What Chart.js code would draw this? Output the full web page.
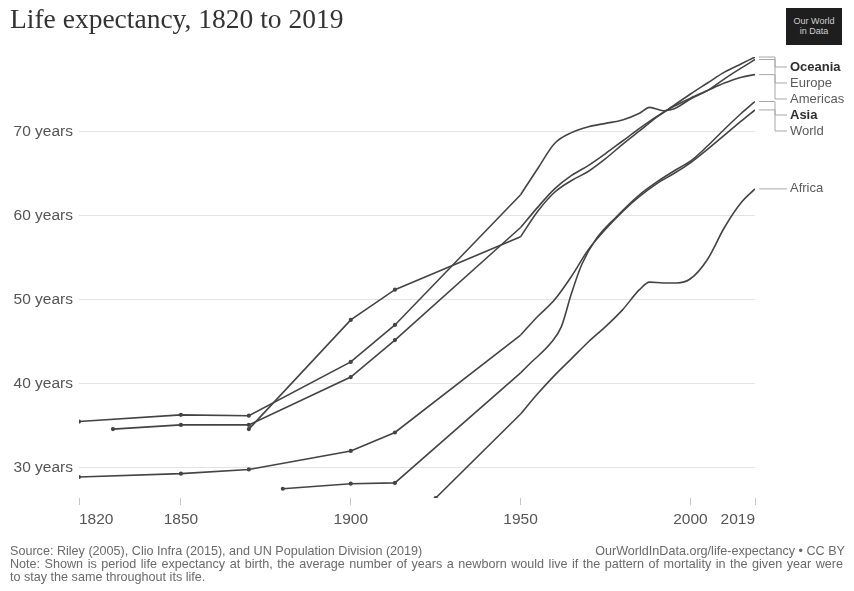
<!DOCTYPE html>
<html><head><meta charset="utf-8">
<script src="https://cdn.jsdelivr.net/npm/chart.js@4"></script>
<style>
html,body{margin:0;padding:0;background:#fff;}
#wrap{position:relative;width:854px;height:591px;overflow:hidden;font-family:"Liberation Sans",Arial,sans-serif;}
#c{position:absolute;left:0;top:0;}
#title{position:absolute;left:10px;top:3px;font-family:"Liberation Serif",serif;font-size:27.5px;color:#333;white-space:nowrap;}
#logo{position:absolute;left:786px;top:8px;width:56px;height:37px;background:#1e1e1e;color:#cfcfcf;font-size:9px;line-height:10px;text-align:center;padding-top:8px;box-sizing:border-box;}
.foot{position:absolute;font-size:12.6px;line-height:13px;color:#6a6a6a;white-space:nowrap;}
</style></head>
<body>
<div id="wrap">
<canvas id="c" width="854" height="591"></canvas>
<div id="title">Life expectancy, 1820 to 2019</div>
<div id="logo">Our World<br>in Data</div>
<div class="foot" style="left:10px;top:545px;">Source: Riley (2005), Clio Infra (2015), and UN Population Division (2019)</div>
<div class="foot" style="right:9px;top:545px;">OurWorldInData.org/life-expectancy • CC BY</div>
<div class="foot" style="left:10px;top:558px;width:833px;text-align:justify;text-align-last:justify;">Note: Shown is period life expectancy at birth, the average number of years a newborn would live if the pattern of mortality in the given year were</div>
<div class="foot" style="left:10px;top:571px;">to stay the same throughout its life.</div>
</div>
<script>
// ---- data ----
const xTicks = [1820, 1850, 1900, 1950, 2000, 2019];
const yTicks = [30, 40, 50, 60, 70];

const europeYears  = [1820,1850,1870,1900,1913,1950,1955,1960,1965,1970,1975,1980,1985,1988,1992,1995,2000,2005,2010,2015,2019];
const europeValues = [35.5,36.3,36.2,42.6,47.0,62.5,65.6,68.6,69.9,70.6,71.0,71.4,72.2,72.9,72.5,72.7,73.9,74.9,76.3,77.6,78.6];

const americasYears  = [1830,1850,1870,1900,1913,1950,1955,1960,1965,1970,1975,1980,1985,1990,1995,2000,2005,2010,2015,2019];
const americasValues = [34.6,35.1,35.1,40.8,45.2,58.6,61.0,63.2,64.8,66.0,67.4,68.9,70.4,71.8,73.0,74.0,74.9,75.8,76.5,76.8];

const oceaniaYears  = [1870,1900,1913,1950,1955,1960,1965,1970,1975,1980,1985,1990,1995,2000,2005,2010,2015,2019];
const oceaniaValues = [34.6,47.6,51.2,57.5,60.5,62.8,64.2,65.3,66.8,68.5,70.1,71.7,73.1,74.5,75.8,77.1,78.1,78.9];

const worldYears  = [1820,1850,1870,1900,1913,1950,1955,1960,1965,1970,1975,1980,1985,1990,1995,2000,2005,2010,2015,2019];
const worldValues = [28.9,29.3,29.8,32.0,34.2,45.8,48.0,50.0,52.8,56.0,58.4,60.5,62.3,63.8,65.0,66.3,67.9,69.6,71.3,72.6];

const asiaYears  = [1880,1900,1913,1950,1953,1959,1962,1965,1968,1972,1978,1985,1990,1995,2000,2005,2010,2015,2019];
const asiaValues = [27.5,28.1,28.2,41.3,42.5,44.9,46.8,50.8,54.2,57.1,59.8,62.5,64.0,65.3,66.5,68.3,70.3,72.2,73.6];

const africaYears  = [1925,1950,1955,1960,1965,1970,1975,1980,1985,1988,1992,1996,2000,2005,2010,2015,2019];
const africaValues = [26.4,36.4,38.8,41.0,43.0,45.0,46.8,48.8,51.2,52.1,52.0,52.0,52.5,54.8,58.6,61.6,63.2];

const seriesNames = ['Oceania','Europe','Americas','Asia','World','Africa'];
const seriesYears = [oceaniaYears, europeYears, americasYears, asiaYears, worldYears, africaYears];
const seriesValues = [oceaniaValues, europeValues, americasValues, asiaValues, worldValues, africaValues];
const boldLabels = ['Oceania','Asia'];
const modernStart = 1950;

// ---- chart ----
const lineColor = '#444';
const datasets = [];
seriesNames.forEach((name, k) => {
  const pts = seriesYears[k].map((yr, i) => ({x: yr, y: seriesValues[k][i]}));
  // sparse historical estimates: straight segments
  datasets.push({
    label: name + ' (historical)', endLabel: false,
    data: pts.filter(p => p.x <= modernStart),
    borderColor: lineColor, backgroundColor: lineColor, borderWidth: 1.6,
    tension: 0,
    pointRadius: c => (c.raw && c.raw.x < modernStart) ? 1.3 : 0,
    pointHoverRadius: 0, fill: false
  });
  // annual-style modern estimates: smooth
  datasets.push({
    label: name, endLabel: true,
    data: pts.filter(p => p.x >= modernStart),
    borderColor: lineColor, backgroundColor: lineColor, borderWidth: 1.6,
    cubicInterpolationMode: 'monotone',
    pointRadius: 0, pointHoverRadius: 0, fill: false
  });
});

const endLabels = {
  id: 'endLabels',
  afterDatasetsDraw(chart) {
    const {ctx, chartArea} = chart;
    const items = [];
    chart.data.datasets.forEach((ds, i) => {
      if (!ds.endLabel) return;
      const meta = chart.getDatasetMeta(i);
      const p = meta.data[meta.data.length - 1];
      items.push({name: ds.label, x: p.x, y: p.y});
    });
    items.sort((a, b) => a.y - b.y);
    let prev = -Infinity;
    items.forEach(it => {
      it.ly = Math.max(it.y, prev + 16, chartArea.top + 10);
      prev = it.ly;
    });
    ctx.save();
    ctx.strokeStyle = '#a8a8a8';
    ctx.lineWidth = 1;
    items.forEach(it => {
      const elbow = 775;
      ctx.beginPath();
      ctx.moveTo(it.x + 4, it.y);
      ctx.lineTo(elbow, it.y);
      ctx.lineTo(elbow, it.ly);
      ctx.lineTo(787, it.ly);
      ctx.stroke();
      const b = boldLabels.includes(it.name);
      ctx.fillStyle = b ? '#2e2e2e' : '#5a5a5a';
      ctx.font = (b ? 'bold ' : '') + '13px "Liberation Sans", Arial, sans-serif';
      ctx.textBaseline = 'middle';
      ctx.textAlign = 'left';
      ctx.fillText(it.name, 790, it.ly);
    });
    ctx.restore();
  }
};

new Chart(document.getElementById('c'), {
  type: 'line',
  data: {datasets},
  plugins: [endLabels],
  options: {
    responsive: false,
    animation: false,
    events: [],
    layout: {padding: {left: 0, right: 99, top: 57, bottom: 50}},
    plugins: {legend: {display: false}, tooltip: {enabled: false}},
    scales: {
      x: {
        type: 'linear', min: 1820, max: 2019,
        afterBuildTicks: ax => { ax.ticks = xTicks.map(v => ({value: v})); },
        afterFit: ax => { ax.height = 43; },
        grid: {drawOnChartArea: false, drawTicks: true, tickLength: 7, color: '#c4c4c4'},
        border: {display: false},
        ticks: {autoSkip: false, maxRotation: 0, padding: 5, color: '#555',
                font: {family: '"Liberation Sans", Arial, sans-serif', size: 15.5},
                align: 'inner',
                callback: v => String(v)}
      },
      y: {
        min: 26.4, max: 78.9,
        afterBuildTicks: ax => { ax.ticks = yTicks.map(v => ({value: v})); },
        afterFit: ax => { ax.width = 79; },
        grid: {color: '#e3e3e3', drawTicks: false},
        border: {display: false},
        ticks: {padding: 6, color: '#555',
                font: {family: '"Liberation Sans", Arial, sans-serif', size: 15.5},
                callback: v => v + ' years'}
      }
    }
  }
});
</script>
</body></html>
